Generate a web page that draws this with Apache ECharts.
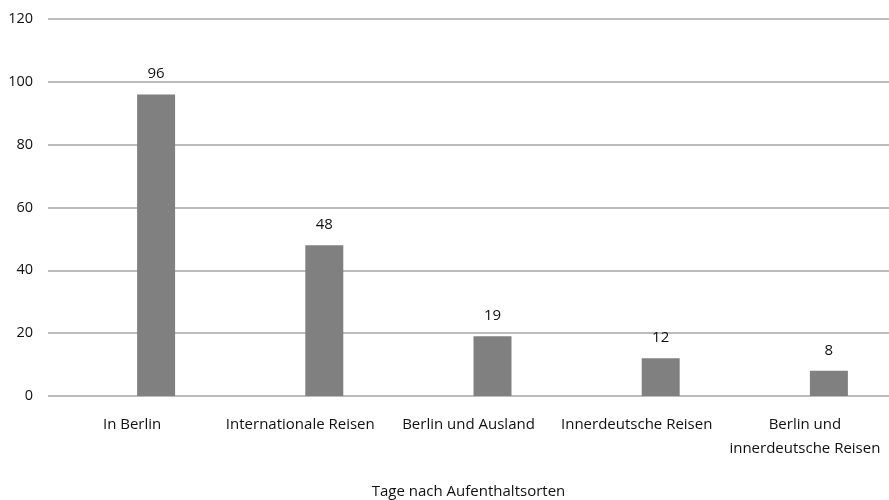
<!DOCTYPE html>
<html>
<head>
<meta charset="utf-8">
<script src="https://cdn.jsdelivr.net/npm/echarts@6/dist/echarts.min.js"></script>
<style>html,body{margin:0;padding:0;background:#fff}#chart{width:889px;height:500px}</style>
</head>
<body>
<div id="chart"></div>
<script>
// Days by place of stay
const categories = ['In Berlin', 'Internationale Reisen', 'Berlin und Ausland', 'Innerdeutsche Reisen', 'Berlin und\ninnerdeutsche Reisen'];
const days = [96, 48, 19, 12, 8];
const yTicks = { min: 0, max: 120, interval: 20 };
const axisTitle = 'Tage nach Aufenthaltsorten';

const FONT = 'Open Sans';
const TEXT = '#111111';
const chart = echarts.init(document.getElementById('chart'));
chart.setOption({
  animation: false,
  grid: [
    // grid with the value axis, grid lines and category labels
    { left: 48, width: 841, top: 19, bottom: 104, outerBoundsMode: 'none' },
    // grid holding the bars, shifted 24px to the right
    { left: 72, width: 841, top: 19, bottom: 104, outerBoundsMode: 'none' }
  ],
  xAxis: [
    {
      gridIndex: 0, type: 'category', data: categories,
      axisLine: { show: false }, axisTick: { show: false },
      axisLabel: { color: TEXT, fontFamily: FONT, fontSize: 15, margin: 17, lineHeight: 24, interval: 0 },
      name: axisTitle, nameLocation: 'middle', nameGap: 88,
      nameTextStyle: { color: TEXT, fontFamily: FONT, fontSize: 15 }
    },
    {
      gridIndex: 1, type: 'category', data: categories, show: false
    }
  ],
  yAxis: [
    {
      gridIndex: 0, type: 'value', min: yTicks.min, max: yTicks.max, interval: yTicks.interval,
      axisLine: { show: false }, axisTick: { show: false },
      axisLabel: { color: TEXT, fontFamily: FONT, fontSize: 14.5, margin: 15 },
      splitLine: { lineStyle: { color: '#a6a6a6', width: 1.5 } }
    },
    {
      gridIndex: 1, type: 'value', min: yTicks.min, max: yTicks.max, interval: yTicks.interval, show: false
    }
  ],
  series: [{
    type: 'bar', xAxisIndex: 1, yAxisIndex: 1, data: days,
    barWidth: 38,
    itemStyle: { color: '#808080' },
    label: { show: true, position: 'top', distance: 13, color: TEXT, fontFamily: FONT, fontSize: 15 }
  }]
});
</script>
</body>
</html>
